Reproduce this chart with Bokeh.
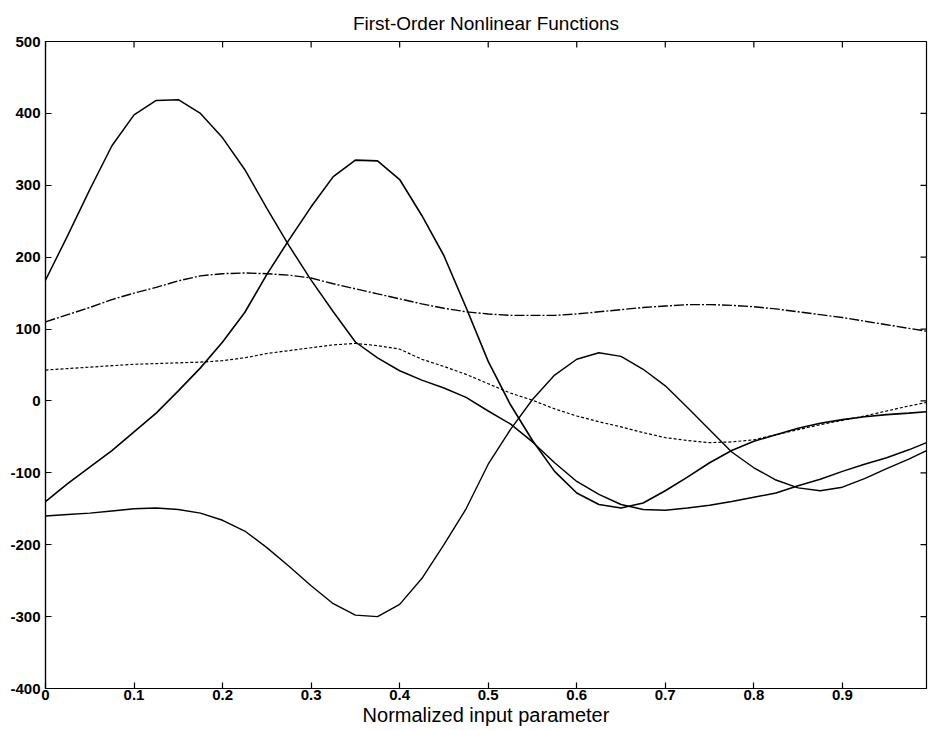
from bokeh.plotting import figure
from bokeh.models import FixedTicker, Range1d, ColumnDataSource
from bokeh.embed import file_html
from bokeh.resources import INLINE

# ---- data ----
x_vals = [0.0, 0.025, 0.05, 0.075, 0.1, 0.125, 0.15, 0.175, 0.2, 0.225,
          0.25, 0.275, 0.3, 0.325, 0.35, 0.375, 0.4, 0.425, 0.45, 0.475,
          0.5, 0.525, 0.55, 0.575, 0.6, 0.625, 0.65, 0.675, 0.7, 0.725,
          0.75, 0.775, 0.8, 0.825, 0.85, 0.875, 0.9, 0.925, 0.95, 0.975, 0.995]

func_a = [168, 230, 294, 355, 398, 418, 419, 400, 366, 322,
          268, 216, 168, 124, 82, 60, 42, 29, 18, 5,
          -14, -32, -57, -86, -112, -130, -144, -151, -152, -149,
          -145, -140, -134, -128, -118, -109, -98, -88, -79, -68, -58]

func_b = [-140, -115, -92, -69, -43, -17, 14, 46, 82, 123,
          176, 224, 270, 312, 335, 334, 308, 258, 202, 130,
          55, -5, -55, -98, -128, -144, -149, -142, -125, -106,
          -86, -69, -56, -47, -38, -31, -26, -22, -19, -17, -15]

func_c = [-160, -158, -156, -153, -150, -149, -151, -156, -166, -181,
          -204, -230, -257, -282, -298, -300, -283, -247, -200, -150,
          -88, -40, 2, 36, 58, 67, 62, 44, 21, -9,
          -40, -71, -93, -110, -121, -125, -120, -108, -94, -81, -69]

func_d = [110, 120, 130, 141, 150, 158, 167, 174, 177, 178,
          177, 175, 171, 163, 156, 149, 142, 135, 129, 124,
          121, 119, 119, 119, 121, 124, 127, 130, 132, 134,
          134, 133, 131, 128, 124, 120, 116, 111, 106, 101, 97]

func_e = [43, 45, 47, 49, 51, 52, 53, 54, 56, 60,
          66, 70, 74, 78, 80, 77, 72, 58, 48, 37,
          24, 11, 1, -11, -21, -29, -36, -44, -51, -55,
          -58, -57, -54, -47, -40, -33, -27, -21, -14, -7, -2]

x_ticks = [0.0, 0.1, 0.2, 0.3, 0.4, 0.5, 0.6, 0.7, 0.8, 0.9]
x_tick_labels = ["0", "0.1", "0.2", "0.3", "0.4", "0.5", "0.6", "0.7", "0.8", "0.9"]
y_ticks = [-400, -300, -200, -100, 0, 100, 200, 300, 400, 500]
y_tick_labels = ["-400", "-300", "-200", "-100", "0", "100", "200", "300", "400", "500"]

title_text = "First-Order Nonlinear Functions"
x_label = "Normalized input parameter"

FONT = "Liberation Sans"
X_MIN, X_MAX = 0.0, 0.995
Y_MIN, Y_MAX = -400, 500
W, H = 929, 730
BL, BR, BT, BB = 45, 3, 41, 42

p = figure(width=W, height=H, output_backend="svg", toolbar_location=None,
           x_range=Range1d(X_MIN, X_MAX), y_range=Range1d(Y_MIN, Y_MAX),
           min_border_left=BL, min_border_right=BR, min_border_top=BT,
           min_border_bottom=BB, background_fill_color="white",
           border_fill_color="white", outline_line_color="black",
           outline_line_width=1.2)

p.title.text = title_text
p.title.align = "center"
p.title.text_font = FONT
p.title.text_font_size = "19px"
p.title.text_font_style = "normal"
p.title.text_color = "black"
p.title.standoff = 15

p.grid.visible = False

xt = FixedTicker(ticks=x_ticks, minor_ticks=[])
yt = FixedTicker(ticks=y_ticks, minor_ticks=[])

for ax in p.xaxis:
    ax.ticker = xt
    ax.major_label_overrides = dict(zip(x_ticks, x_tick_labels))
    ax.axis_label = x_label
    ax.axis_label_text_font = FONT
    ax.axis_label_text_font_size = "20px"
    ax.axis_label_text_font_style = "normal"
    ax.axis_label_text_color = "black"
    ax.axis_label_standoff = 1
for ax in p.yaxis:
    ax.ticker = yt
    ax.major_label_overrides = dict(zip(y_ticks, y_tick_labels))

for ax in list(p.xaxis) + list(p.yaxis):
    ax.major_tick_in = 6
    ax.major_tick_out = 0
    ax.minor_tick_line_color = None
    ax.major_label_text_font = FONT
    ax.major_label_text_font_size = "15px"
    ax.major_label_text_font_style = "bold"
    ax.major_label_text_color = "black"
    ax.axis_line_color = "black"
    ax.axis_line_width = 1.2
    ax.major_tick_line_color = "black"
    ax.major_tick_line_width = 1.2
p.xaxis.major_label_standoff = 1
p.yaxis.major_label_standoff = 5

# inward tick marks on the top and right edges of the box
frame_w = W - BL - BR
frame_h = H - BT - BB
tick_dx = 6 * (X_MAX - X_MIN) / frame_w
tick_dy = 6 * (Y_MAX - Y_MIN) / frame_h
p.segment(x0=x_ticks, x1=x_ticks, y0=[Y_MAX] * len(x_ticks),
          y1=[Y_MAX - tick_dy] * len(x_ticks), line_color="black", line_width=1.2)
p.segment(x0=[X_MAX] * len(y_ticks), x1=[X_MAX - tick_dx] * len(y_ticks),
          y0=y_ticks, y1=y_ticks, line_color="black", line_width=1.2)

src = ColumnDataSource(dict(x=x_vals, a=func_a, b=func_b, c=func_c,
                            d=func_d, e=func_e))

p.line("x", "a", source=src, line_color="black", line_width=1.5)
p.line("x", "b", source=src, line_color="black", line_width=1.6)
p.line("x", "c", source=src, line_color="black", line_width=1.4)
p.line("x", "d", source=src, line_color="black", line_width=1.4,
       line_dash="10 2 2 2")
p.line("x", "e", source=src, line_color="black", line_width=1.2,
       line_dash="3 2")

open("out.html", "w").write(file_html(p, INLINE))
